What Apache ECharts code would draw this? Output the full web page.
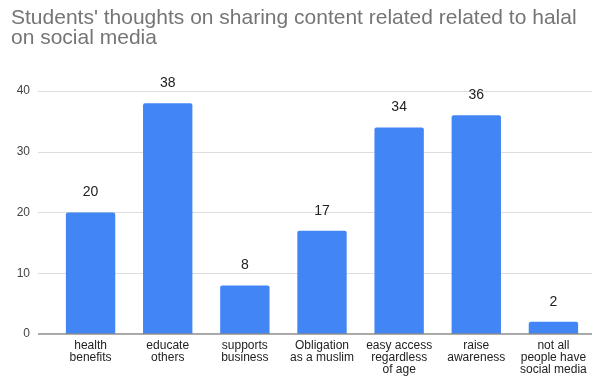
<!DOCTYPE html>
<html>
<head>
<meta charset="utf-8">
<script src="https://cdn.jsdelivr.net/npm/echarts@6/dist/echarts.min.js"></script>
<style>
  html, body { margin: 0; padding: 0; background: #fff; }
  #chart { width: 594px; height: 376px; }
</style>
</head>
<body>
<div id="chart"></div>
<script>
// Survey answers and counts
const categories = [
  'health\nbenefits',
  'educate\nothers',
  'supports\nbusiness',
  'Obligation\nas a muslim',
  'easy access\nregardless\nof age',
  'raise\nawareness',
  'not all\npeople have\nsocial media'
];
const counts = [20, 38, 8, 17, 34, 36, 2];
const yTicks = [0, 10, 20, 30, 40];

const FONT = '"Liberation Sans", Arial, sans-serif';
const yMin = yTicks[0];
const yMax = yTicks[yTicks.length - 1];
const yStep = yTicks[1] - yTicks[0];

const chart = echarts.init(document.getElementById('chart'), null, { renderer: 'canvas' });
chart.setOption({
  animation: false,
  backgroundColor: '#ffffff',
  title: {
    text: "Students' thoughts on sharing content related related to halal\non social media",
    left: 6,
    top: 3,
    textStyle: {
      fontFamily: FONT,
      fontSize: 21,
      fontWeight: 'normal',
      color: '#757575',
      lineHeight: 20
    }
  },
  grid: [
    // background grid carrying the value scale and gridlines
    { left: 38, right: 2, top: 91, bottom: 42, outerBoundsMode: 'none' },
    // grid holding the bars
    { left: 52, right: 2, top: 91, bottom: 42, outerBoundsMode: 'none' }
  ],
  xAxis: [
    { type: 'value', gridIndex: 0, show: false, min: 0, max: 1 },
    {
      type: 'category',
      gridIndex: 1,
      data: categories,
      axisLine: { show: false },
      axisTick: { show: false },
      axisLabel: {
        interval: 0,
        margin: 6,
        fontFamily: FONT,
        fontSize: 12,
        lineHeight: 12,
        color: '#222222'
      }
    }
  ],
  yAxis: [
    {
      type: 'value',
      gridIndex: 0,
      min: yMin,
      max: yMax,
      interval: yStep,
      axisLine: { show: false },
      axisTick: { show: false },
      axisLabel: {
        margin: 8,
        fontFamily: FONT,
        fontSize: 12,
        color: '#444444'
      },
      splitLine: { lineStyle: { color: '#dddddd', width: 1 } }
    },
    {
      type: 'value',
      gridIndex: 1,
      min: yMin,
      max: yMax,
      interval: yStep,
      show: false
    }
  ],
  series: [
    {
      // baseline at zero across the full plot width
      type: 'line',
      xAxisIndex: 0,
      yAxisIndex: 0,
      data: [[0, 0], [1, 0]],
      symbol: 'none',
      lineStyle: { color: '#888888', width: 1.5 },
      silent: true,
      z: 5
    },
    {
      type: 'bar',
      xAxisIndex: 1,
      yAxisIndex: 1,
      data: counts,
      barCategoryGap: '36%',
      itemStyle: { color: '#4285f4', borderRadius: [2, 2, 0, 0] },
      label: {
        show: true,
        position: 'top',
        distance: 13,
        fontFamily: FONT,
        fontSize: 14,
        color: '#222222'
      },
      z: 3
    }
  ]
});
</script>
</body>
</html>
